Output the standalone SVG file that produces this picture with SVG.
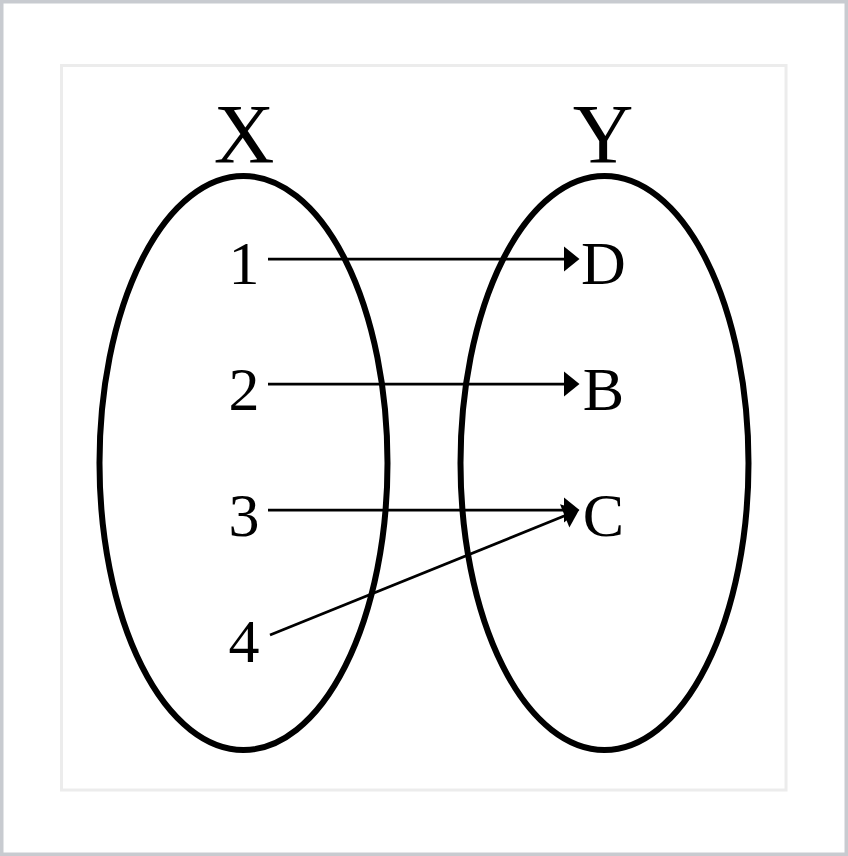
<svg xmlns="http://www.w3.org/2000/svg" width="848" height="856" viewBox="0 0 848 856">
<style>
.set{fill:none;stroke:#000;stroke-width:6}
.lbl{font-family:"Liberation Serif","Times New Roman",serif;fill:#000;text-anchor:middle}
.big{font-size:84px}
.el{font-size:62px}
.conn line{stroke:#000;stroke-width:2.75;fill:none;marker-end:url(#ah)}
</style>
<defs>
<marker id="ah" markerUnits="userSpaceOnUse" markerWidth="16" markerHeight="26" refX="0" refY="12.5" orient="auto" overflow="visible">
<path d="M0,0 L15.5,12.5 L0,25 Z" fill="#000"/>
</marker>
</defs>
<rect x="1.75" y="1.75" width="844.5" height="852.5" fill="#fff" stroke="#c8cbd0" stroke-width="3.5"/>
<rect x="61.5" y="65.5" width="724.5" height="724.5" fill="#fff" stroke="#ececec" stroke-width="3"/>
<g id="setX">
<ellipse class="set" cx="243.5" cy="463" rx="144" ry="287"/>
<text class="lbl big" x="244" y="162.5">X</text>
</g>
<g id="setY">
<ellipse class="set" cx="604.5" cy="463" rx="144" ry="287"/>
<text class="lbl big" x="603" y="162.5">Y</text>
</g>
<g id="n1"><text class="lbl el" x="244" y="283.5">1</text></g>
<g id="n2"><text class="lbl el" x="244" y="409.5">2</text></g>
<g id="n3"><text class="lbl el" x="244" y="535.5">3</text></g>
<g id="n4"><text class="lbl el" x="244" y="661.5">4</text></g>
<g id="nD"><text class="lbl el" x="603.5" y="284">D</text></g>
<g id="nB"><text class="lbl el" x="603.5" y="410">B</text></g>
<g id="nC"><text class="lbl el" x="603.5" y="536">C</text></g>
<g id="connectors" class="conn">
<line x1="268" y1="259" x2="564" y2="259"/>
<line x1="268" y1="384" x2="564" y2="384"/>
<line x1="268" y1="510" x2="564" y2="510"/>
<line x1="270" y1="635" x2="564.7" y2="515.8"/>
</g>
</svg>
